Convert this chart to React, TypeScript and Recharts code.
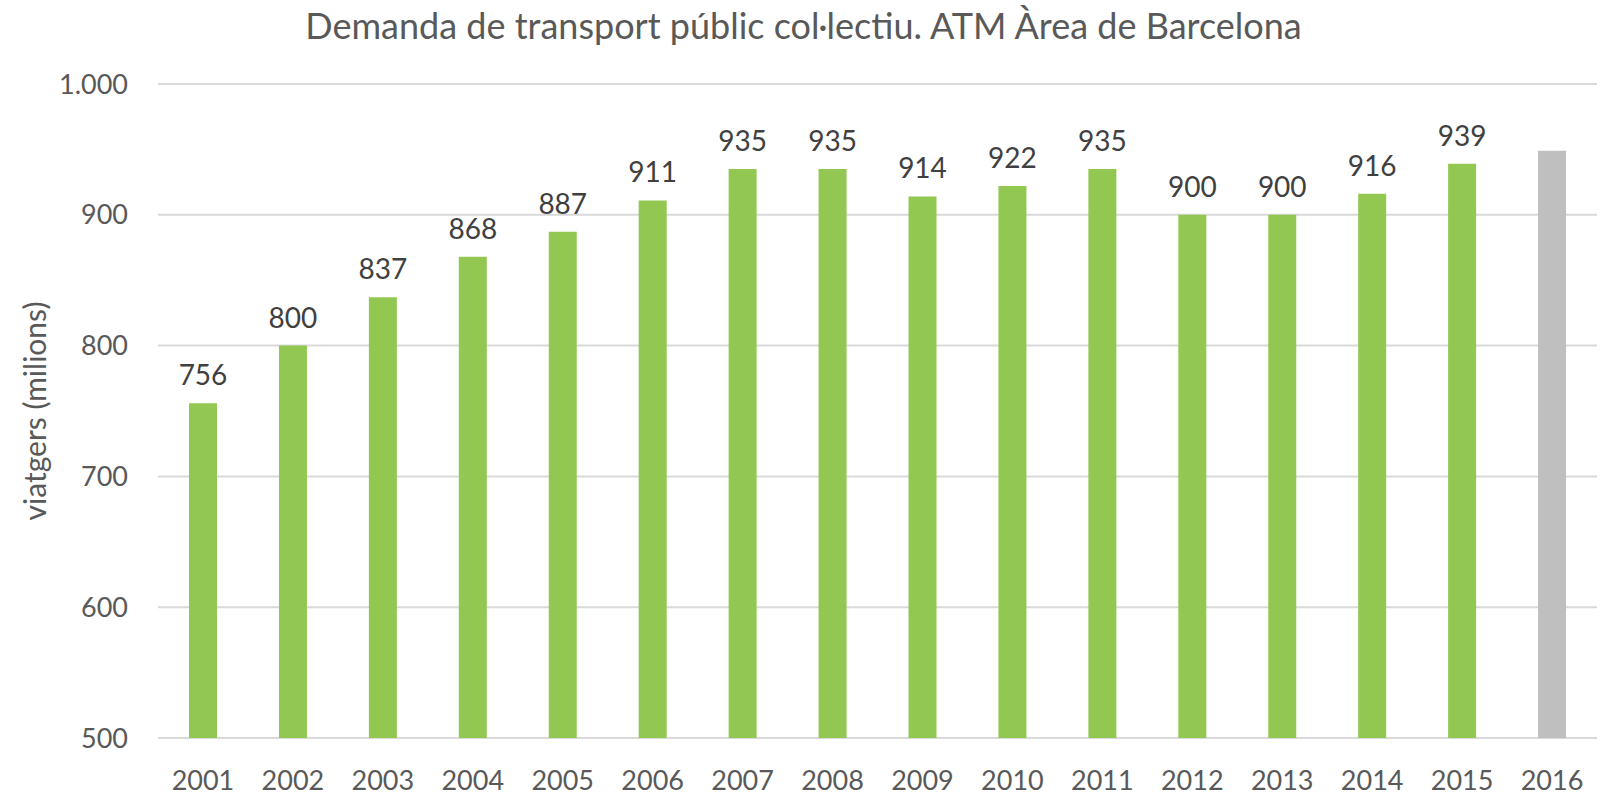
import { BarChart, Bar, XAxis, YAxis, CartesianGrid, Cell, LabelList } from "recharts";

const years = ["2001", "2002", "2003", "2004", "2005", "2006", "2007", "2008", "2009", "2010", "2011", "2012", "2013", "2014", "2015", "2016"];
const demand = [756, 800, 837, 868, 887, 911, 935, 935, 914, 922, 935, 900, 900, 916, 939, 949];
// 2016 bar has no value label in the original
const shownLabels = [756, 800, 837, 868, 887, 911, 935, 935, 914, 922, 935, 900, 900, 916, 939, null];
const yTicks = [500, 600, 700, 800, 900, 1000];

const data = years.map((year, i) => ({ year, value: demand[i], label: shownLabels[i] }));

const FONT = "Lato, 'Open Sans', sans-serif";

const fmt = (v: number) => String(v).replace(/\B(?=(\d{3})+(?!\d))/g, ".");

export default function App() {
  return (
    <div style={{ position: "absolute", left: 0, top: 0, width: 1607, height: 799, background: "#fff", fontFamily: FONT }}>
      <div
        style={{
          position: "absolute",
          left: 0,
          top: 4,
          width: 1607,
          textAlign: "center",
          fontSize: 36,
          color: "#595959",
          lineHeight: "42px",
        }}
      >
        Demanda de transport públic col·lectiu. ATM Àrea de Barcelona
      </div>
      <BarChart width={1607} height={799} data={data} margin={{ top: 84, right: 10, bottom: 0, left: 0 }}>
        <CartesianGrid vertical={false} stroke="#d9d9d9" strokeWidth={2} />
        <XAxis
          dataKey="year"
          axisLine={false}
          tickLine={false}
          tickSize={0}
          tickMargin={33}
          height={61}
          interval={0}
          tick={{ fill: "#595959", fontSize: 27, fontFamily: FONT }}
        />
        <YAxis
          domain={[500, 1000]}
          ticks={yTicks}
          width={158}
          axisLine={false}
          tickLine={false}
          tickSize={0}
          tickMargin={30}
          tickFormatter={fmt}
          tick={{ fill: "#595959", fontSize: 27, fontFamily: FONT }}
          label={{
            value: "viatgers (milions)",
            angle: -90,
            position: "insideLeft",
            offset: 35,
            style: { textAnchor: "middle", fill: "#595959", fontSize: 30, fontFamily: FONT },
          }}
        />
        <Bar dataKey="value" barSize={28} isAnimationActive={false}>
          {data.map((d, i) => (
            <Cell key={d.year} fill={i === data.length - 1 ? "#bfbfbf" : "#92c752"} />
          ))}
          <LabelList dataKey="label" position="top" offset={18} fill="#404040" fontSize={28} fontFamily={FONT} />
        </Bar>
      </BarChart>
    </div>
  );
}
